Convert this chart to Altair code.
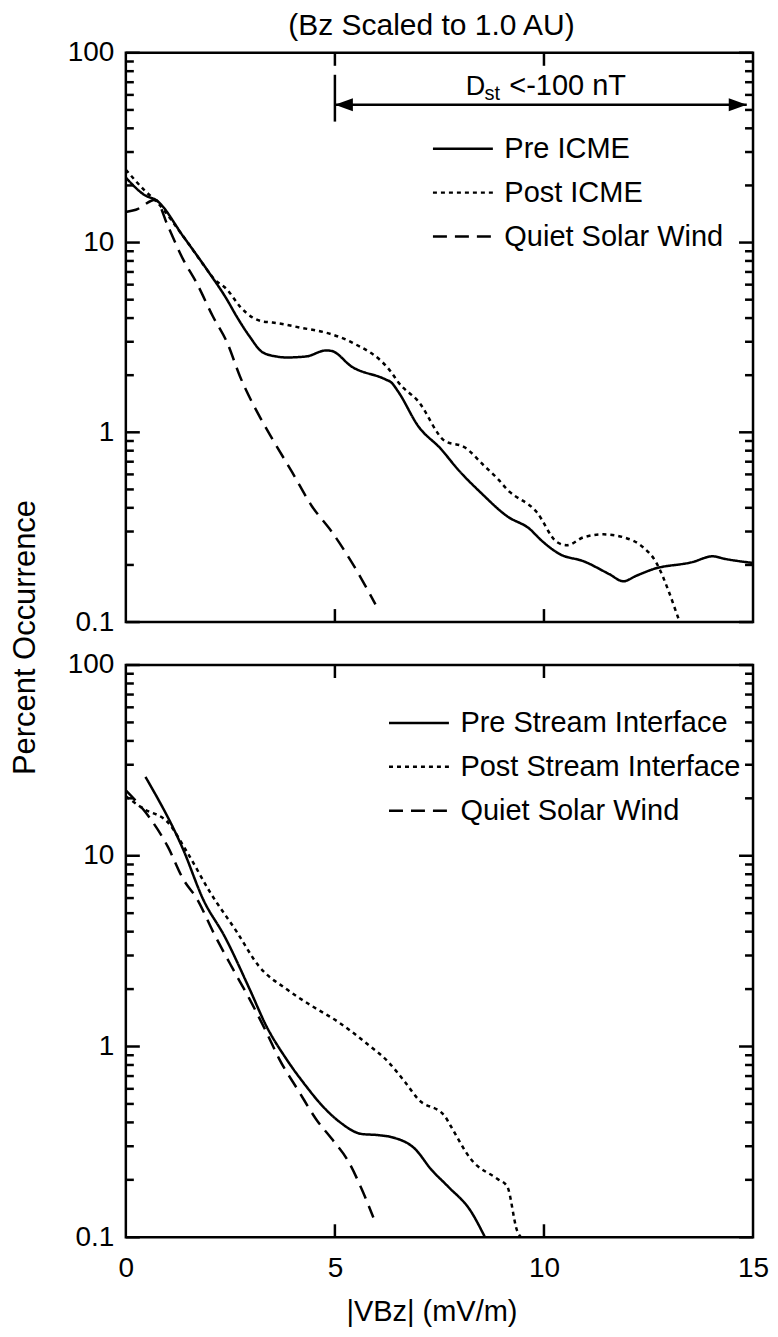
import altair as alt
import pandas as pd

FONT = "Liberation Sans"
W = 628
H1 = 570
H2 = 573

# ---------------- top panel (ICME) ----------------
pre_icme_x = [0.00, 0.43, 0.76, 1.37, 1.94, 2.42, 2.65, 2.96, 3.27, 3.60, 3.84, 4.31, 4.79, 4.93,
              5.40, 6.21, 6.35, 6.52, 6.99, 7.54, 7.94, 8.48, 9.12, 9.67, 9.91, 10.38, 10.95,
              11.56, 11.90, 12.20, 12.61, 13.55, 14.03, 14.34, 15.0]
pre_icme_y = [22, 17.9, 16.5, 10.8, 7.2, 5.0, 4.08, 3.2, 2.64, 2.51, 2.48, 2.51, 2.70, 2.68,
              2.22, 1.9, 1.83, 1.63, 1.08, 0.815, 0.638, 0.483, 0.361, 0.308, 0.273, 0.228, 0.209,
              0.179, 0.164, 0.175, 0.19, 0.207, 0.222, 0.215, 0.205]

post_icme_x = [0.00, 0.43, 0.76, 1.37, 1.94, 2.09, 2.42, 2.73, 3.03, 3.27, 3.51, 4.15, 4.93, 5.40,
               6.35, 6.52, 6.99, 7.63, 8.10, 8.58, 8.89, 9.12, 9.83, 10.31, 10.55, 10.95, 11.42,
               11.90, 12.37, 12.68, 12.99, 13.22, 13.25]
post_icme_y = [24.2, 19, 16.2, 10.8, 7.2, 6.5, 5.66, 4.6, 4.03, 3.84, 3.79, 3.57, 3.28, 2.98,
               2.07, 1.83, 1.46, 0.9, 0.834, 0.663, 0.57, 0.5, 0.379, 0.264, 0.254, 0.28, 0.29,
               0.28, 0.248, 0.207, 0.144, 0.104, 0.1]

quiet_top_x = [0.00, 0.24, 0.71, 1.00, 1.37, 1.69, 2.08, 2.42, 2.73, 3.20, 3.51, 3.98, 4.45,
               4.93, 5.40, 5.97]
quiet_top_y = [14.5, 14.9, 16.8, 12.3, 8.15, 6.14, 4.09, 2.98, 1.97, 1.21, 0.918, 0.615, 0.408,
               0.298, 0.207, 0.124]

# ---------------- bottom panel (stream interface) ----------------
pre_si_x = [0.47, 1.37, 1.85, 2.37, 2.96, 3.36, 3.84, 4.31, 4.62, 5.09, 5.64, 6.04, 6.35, 6.92,
            7.30, 7.70, 8.25, 8.58]
pre_si_y = [25.9, 10.8, 5.9, 3.75, 2.0, 1.28, 0.859, 0.62, 0.511, 0.406, 0.348, 0.343, 0.335,
            0.29, 0.227, 0.185, 0.137, 0.101]

post_si_x = [0.00, 0.43, 1.00, 1.47, 2.01, 2.65, 3.18, 3.84, 4.45, 5.09, 5.73, 6.28, 6.68, 6.99,
             7.63, 7.77, 8.25, 8.89, 9.12, 9.36, 9.45]
post_si_y = [20.5, 17.6, 15.0, 10.4, 6.46, 4.0, 2.64, 2.0, 1.63, 1.34, 1.05, 0.828, 0.65, 0.53,
             0.431, 0.383, 0.257, 0.202, 0.185, 0.108, 0.1]

quiet_bot_x = [0.00, 0.59, 1.00, 1.37, 1.71, 2.09, 2.56, 2.96, 3.36, 3.67, 4.15, 4.55, 4.93, 5.33,
               5.64, 5.92]
quiet_bot_y = [22, 15.6, 11.2, 7.55, 5.9, 3.98, 2.55, 1.77, 1.19, 0.859, 0.576, 0.416, 0.327,
               0.248, 0.179, 0.127]

top_series = ["Pre ICME", "Post ICME", "Quiet Solar Wind"]
bot_series = ["Pre Stream Interface", "Post Stream Interface", "Quiet Solar Wind"]
dash_range = [[1, 0], [4, 4], [14, 8]]

# axis ticks
y_major = [0.1, 1, 10, 100]
y_minor = [0.2, 0.3, 0.4, 0.5, 0.6, 0.7, 0.8, 0.9,
           2, 3, 4, 5, 6, 7, 8, 9,
           20, 30, 40, 50, 60, 70, 80, 90]
x_inner_ticks = [5, 10]
x_labels = [0, 5, 10, 15]

# Dst annotation (data units)
dst_x = 5
dst_end_x = 14.85
dst_arrow_y = 53.2
dst_bar_y = [76.6, 43.4]
dst_text = ["D", "st", "<-100 nT"]
dst_text_x = [8.13, 8.58, 9.17]
dst_text_y = [60.1, 56.6, 60.1]
dst_text_size = [27, 20, 29]


def make_df(xs_list, ys_list, names):
    rows = []
    for xs, ys, n in zip(xs_list, ys_list, names):
        for a, b in zip(xs, ys):
            rows.append({"x": a, "y": b, "series": n})
    return pd.DataFrame(rows)


xscale = alt.Scale(domain=[0, 15], nice=False, zero=False)
yscale = alt.Scale(type="log", domain=[0.1, 100], nice=False)

label_common = dict(labelFont=FONT, labelFontSize=28, labelColor="black",
                    titleFont=FONT, titleColor="black", titleFontWeight="normal")

yaxis_top = alt.Axis(values=y_major, format="~g", ticks=False, domain=False, grid=False,
                     labelPadding=12, title="Percent Occurrence", titleFontSize=31,
                     titleX=-91, titleY=585, titleAngle=270, titleAlign="center",
                     titleBaseline="alphabetic", **label_common)
yaxis_bot = alt.Axis(values=y_major, format="~g", ticks=False, domain=False, grid=False,
                     labelPadding=12, title=None, **label_common)
xaxis_bot = alt.Axis(values=x_labels, format="d", ticks=False, domain=False, grid=False,
                     labelPadding=17, labelFlush=False, title="|VBz| (mV/m)",
                     titleFontSize=29, titlePadding=15, titleX=306, titleAlign="center",
                     **label_common)


def tick_layers(H, X, Y):
    maj = pd.DataFrame({"y": y_major})
    mnr = pd.DataFrame({"y": y_minor})
    xt = pd.DataFrame({"x": x_inner_ticks})
    rule = dict(color="black", strokeWidth=2.5)
    return [
        alt.Chart(maj).mark_rule(**rule).encode(y=Y, x=alt.value(0), x2=alt.value(14)),
        alt.Chart(mnr).mark_rule(**rule).encode(y=Y, x=alt.value(0), x2=alt.value(8)),
        alt.Chart(maj).mark_rule(**rule).encode(y=Y, x=alt.value(W), x2=alt.value(W - 14)),
        alt.Chart(mnr).mark_rule(**rule).encode(y=Y, x=alt.value(W), x2=alt.value(W - 8)),
        alt.Chart(xt).mark_rule(**rule).encode(x=X, y=alt.value(0), y2=alt.value(13)),
        alt.Chart(xt).mark_rule(**rule).encode(x=X, y=alt.value(H), y2=alt.value(H - 13)),
    ]


def legend(lx, ly):
    return alt.Legend(orient="none", legendX=lx, legendY=ly, title=None,
                      symbolType="stroke", symbolSize=3600, symbolStrokeWidth=2.5,
                      symbolStrokeColor="black", labelFont=FONT, labelFontSize=29,
                      labelColor="black", labelOffset=10, rowPadding=0, clipHeight=44,
                      labelLimit=500)


# ---------- top chart ----------
Xt = alt.X("x:Q", scale=xscale, axis=None)
Yt = alt.Y("y:Q", scale=yscale, axis=yaxis_top)

top_df = make_df([pre_icme_x, post_icme_x, quiet_top_x],
                 [pre_icme_y, post_icme_y, quiet_top_y], top_series)

top_lines = alt.Chart(top_df).mark_line(color="black", strokeWidth=2.5, clip=True,
                                        interpolate="monotone").encode(
    x=Xt, y=Yt,
    strokeDash=alt.StrokeDash("series:N",
                              scale=alt.Scale(domain=top_series, range=dash_range),
                              legend=legend(306, 74)),
    detail="series:N",
)

bar_df = pd.DataFrame({"x": [dst_x], "y": [dst_bar_y[0]], "y2": [dst_bar_y[1]]})
arrow_df = pd.DataFrame({"x": [dst_x], "x2": [dst_end_x], "y": [dst_arrow_y]})
head_l_df = pd.DataFrame({"x": [dst_x], "y": [dst_arrow_y]})
head_r_df = pd.DataFrame({"x": [dst_end_x], "y": [dst_arrow_y]})
txt_df = pd.DataFrame({"x": dst_text_x, "y": dst_text_y, "t": dst_text, "s": dst_text_size})

annot = [
    alt.Chart(bar_df).mark_rule(color="black", strokeWidth=2.5).encode(x=Xt, y=Yt, y2="y2:Q"),
    alt.Chart(arrow_df).mark_rule(color="black", strokeWidth=2.5).encode(x=Xt, x2="x2:Q", y=Yt),
    alt.Chart(head_l_df).mark_point(shape="M0,0L2,-0.72L2,0.72Z", filled=True, size=324,
                                    color="black", opacity=1).encode(x=Xt, y=Yt),
    alt.Chart(head_r_df).mark_point(shape="M0,0L-2,-0.72L-2,0.72Z", filled=True, size=324,
                                    color="black", opacity=1).encode(x=Xt, y=Yt),
    alt.Chart(txt_df).mark_text(align="left", baseline="alphabetic", font=FONT,
                                color="black").encode(
        x=Xt, y=Yt, text="t:N", size=alt.Size("s:Q", scale=None, legend=None)),
]

top = alt.layer(top_lines, *tick_layers(H1, Xt, Yt), *annot).properties(width=W, height=H1)

# ---------- bottom chart ----------
Xb = alt.X("x:Q", scale=xscale, axis=xaxis_bot)
Yb = alt.Y("y:Q", scale=yscale, axis=yaxis_bot)

bot_df = make_df([pre_si_x, post_si_x, quiet_bot_x],
                 [pre_si_y, post_si_y, quiet_bot_y], bot_series)

bot_lines = alt.Chart(bot_df).mark_line(color="black", strokeWidth=2.5, clip=True,
                                        interpolate="monotone").encode(
    x=Xb, y=Yb,
    strokeDash=alt.StrokeDash("series:N",
                              scale=alt.Scale(domain=bot_series, range=dash_range),
                              legend=legend(262, 36)),
    detail="series:N",
)

bottom = alt.layer(bot_lines, *tick_layers(H2, Xb, Yb)).properties(width=W, height=H2)

chart = alt.vconcat(top, bottom, spacing=43, bounds="flush").resolve_scale(
    strokeDash="independent").properties(
    background="white",
    padding={"left": 0, "right": 0, "top": 1, "bottom": 0},
    title=alt.TitleParams("(Bz Scaled to 1.0 AU)", font=FONT, fontSize=30, fontWeight="normal",
                          color="black", anchor="middle", frame="group", dx=-8, offset=-3)
).configure_view(stroke="black", strokeWidth=2.5)

chart.save("out.html", embed_options={"renderer": "svg", "actions": False})
